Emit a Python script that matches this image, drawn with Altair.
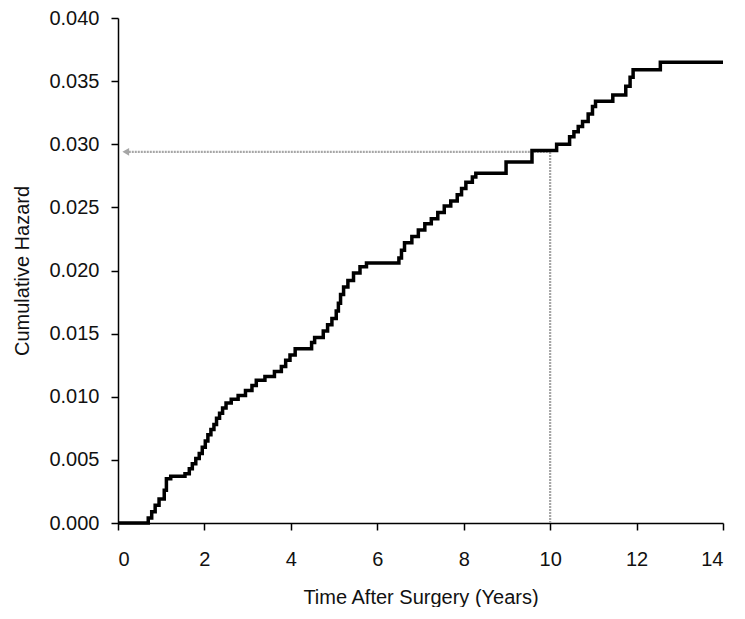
import altair as alt
import pandas as pd

# Step points of the cumulative hazard curve (time in years, cumulative hazard)
times = [0.0, 0.70, 0.78, 0.86, 0.95, 1.07, 1.12, 1.22, 1.55, 1.65, 1.72, 1.80,
         1.88, 1.95, 2.02, 2.08, 2.15, 2.22, 2.28, 2.35, 2.42, 2.50, 2.62, 2.78,
         2.95, 3.10, 3.20, 3.40, 3.62, 3.78, 3.88, 3.98, 4.10, 4.48, 4.55, 4.75,
         4.85, 4.95, 5.05, 5.10, 5.15, 5.22, 5.32, 5.45, 5.60, 5.75, 6.50, 6.56,
         6.63, 6.80, 6.95, 7.10, 7.25, 7.40, 7.55, 7.70, 7.85, 7.95, 8.05, 8.20,
         8.28, 8.98, 9.58, 10.15, 10.45, 10.55, 10.65, 10.75, 10.88, 10.98, 11.05,
         11.45, 11.75, 11.85, 11.92, 12.55, 14.0]
hazard = [0.0, 0.0004, 0.0009, 0.0014, 0.0019, 0.0026, 0.0035, 0.0037, 0.0039,
          0.0043, 0.0047, 0.0051, 0.0055, 0.0060, 0.0065, 0.0070, 0.0074, 0.0078,
          0.0083, 0.0087, 0.0091, 0.0095, 0.0098, 0.0101, 0.0105, 0.0109, 0.0113,
          0.0116, 0.0120, 0.0124, 0.0129, 0.0133, 0.0138, 0.0143, 0.0147, 0.0152,
          0.0157, 0.0162, 0.0168, 0.0174, 0.0181, 0.0187, 0.0192, 0.0198, 0.0203,
          0.0206, 0.0210, 0.0216, 0.0222, 0.0227, 0.0232, 0.0237, 0.0241, 0.0246,
          0.0251, 0.0255, 0.0260, 0.0265, 0.0270, 0.0274, 0.0277, 0.0286, 0.0295,
          0.0300, 0.0306, 0.0310, 0.0314, 0.0318, 0.0324, 0.0330, 0.0334, 0.0339,
          0.0346, 0.0353, 0.0359, 0.0365, 0.0365]

# Reference read-off at 10 years
ref_time = 10
ref_hazard = 0.0294
arrow_time = 0.18

x_ticks = [0, 2, 4, 6, 8, 10, 12, 14]
y_ticks = [0.0, 0.005, 0.010, 0.015, 0.020, 0.025, 0.030, 0.035, 0.040]

curve = pd.DataFrame({"t": times, "h": hazard})
vref = pd.DataFrame({"t": [ref_time], "h0": [0.0], "h1": [ref_hazard]})
href = pd.DataFrame({"t0": [arrow_time], "t1": [ref_time], "h": [ref_hazard]})
arrow = pd.DataFrame({"t": [arrow_time], "h": [ref_hazard]})

xs = alt.Scale(domain=[0, 14], nice=False, zero=False)
ys = alt.Scale(domain=[0, 0.04], nice=False)

x_axis = alt.Axis(values=x_ticks, format="d", title="Time After Surgery (Years)",
                  grid=False, tickSize=7, labelPadding=19,
                  titleX=302.5, titleY=80, titleAlign="center",
                  titleBaseline="alphabetic")
y_axis = alt.Axis(values=y_ticks, format=".3f", title="Cumulative Hazard",
                  grid=False, tickSize=7, labelPadding=12,
                  titleX=-96, titleY=252.5, titleAngle=270,
                  titleAlign="center", titleBaseline="middle")

ref_color = "#a6a6a6"

v_rule = alt.Chart(vref).mark_rule(color=ref_color, strokeWidth=2.2,
                                   strokeDash=[2, 1]).encode(
    x=alt.X("t:Q", scale=xs, axis=x_axis),
    y=alt.Y("h0:Q", scale=ys, axis=y_axis),
    y2="h1:Q",
)
h_rule = alt.Chart(href).mark_rule(color=ref_color, strokeWidth=2.2,
                                   strokeDash=[2, 1]).encode(
    x=alt.X("t0:Q", scale=xs),
    x2="t1:Q",
    y=alt.Y("h:Q", scale=ys),
)
head = alt.Chart(arrow).mark_point(shape="triangle-left", filled=True,
                                   size=60, color=ref_color, opacity=1).encode(
    x=alt.X("t:Q", scale=xs),
    y=alt.Y("h:Q", scale=ys),
)
line = alt.Chart(curve).mark_line(interpolate="step-after", color="black",
                                  strokeWidth=3.5).encode(
    x=alt.X("t:Q", scale=xs),
    y=alt.Y("h:Q", scale=ys),
)

chart = alt.layer(v_rule, h_rule, head, line).properties(
    width=605, height=505,
    padding={"left": 110, "top": 10, "right": 14, "bottom": 84},
    autosize="none",
).configure_view(stroke=None).configure_axis(
    domainColor="black", domainWidth=1.5, tickColor="black", tickWidth=1.5,
    labelFont="Liberation Sans", titleFont="Liberation Sans",
    labelFontSize=20, titleFontSize=20, labelColor="#111", titleColor="#111",
    titleFontWeight="normal",
)

chart.save("out.html", embed_options={"renderer": "svg", "actions": False})
